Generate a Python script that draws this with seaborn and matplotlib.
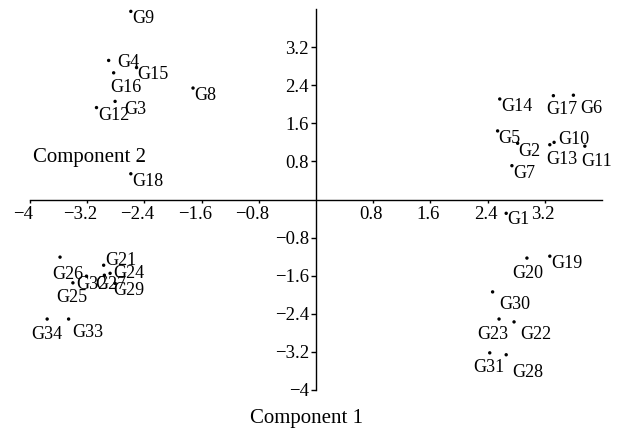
import matplotlib
matplotlib.use("Agg")
import matplotlib.pyplot as plt
import matplotlib.transforms as mtransforms
import seaborn as sns
import pandas as pd

names = ["G9", "G4", "G15", "G16", "G8", "G3", "G12", "G18",
         "G14", "G17", "G6", "G5", "G2", "G10", "G13", "G11", "G7",
         "G1", "G20", "G19", "G30", "G23", "G22", "G31", "G28",
         "G26", "G21", "G24", "G27", "G32", "G29", "G25", "G34", "G33"]
comp1 = [-2.59, -2.90, -2.51, -2.83, -1.72, -2.81, -3.07, -2.59,
         2.57, 3.32, 3.60, 2.54, 2.82, 3.33, 3.27, 3.76, 2.74,
         2.66, 2.95, 3.27, 2.47, 2.56, 2.77, 2.43, 2.66,
         -3.58, -2.97, -2.88, -2.96, -3.21, -2.81, -3.40, -3.76, -3.46]
comp2 = [3.95, 2.92, 2.77, 2.66, 2.34, 2.06, 1.93, 0.54,
         2.11, 2.18, 2.19, 1.44, 1.18, 1.20, 1.15, 1.12, 0.71,
         -0.29, -1.23, -1.19, -1.94, -2.51, -2.57, -3.22, -3.26,
         -1.21, -1.38, -1.55, -1.59, -1.61, -1.76, -1.75, -2.51, -2.51]
xticks = [-4, -3.2, -2.4, -1.6, -0.8, 0.8, 1.6, 2.4, 3.2]
yticks = [-4, -3.2, -2.4, -1.6, -0.8, 0.8, 1.6, 2.4, 3.2]

# label placement (pixel offsets of the label baseline-left from the point; +down)
label_dx = [1, 8.7, 0.3, -3.3, 1.7, 9, 1.3, 1,
            1.7, -7.3, 6.7, 1, 1, 4, -4, -3.3, 1,
            0.7, -14.4, 1.7, 6.7, -21.7, 5.7, -16, 5.7,
            -7.3, 1.7, 3.3, -9.3, -10.7, -1.7, -16.7, -15.7, 3.3]
label_dy = [11.7, 6.7, 11.3, 19, 12, 12.6, 12.6, 12.7,
            11.7, 18.3, 17.4, 11.7, 12.3, 1.6, 19.3, 20, 12.3,
            10.6, 19.6, 12.3, 17.3, 20, 17, 18.7, 22.6,
            21.6, 0, 5, 13.3, 13.3, 11.7, 19, 20, 17.7]

df = pd.DataFrame({"name": names, "Component 1": comp1, "Component 2": comp2})

sns.set_theme(style="white")
plt.rcParams["font.family"] = ["Liberation Serif", "DejaVu Serif"]

W, H = 623, 432
fig = plt.figure(figsize=(W / 100, H / 100), dpi=100)
ax = fig.add_axes([30 / W, 1 - 390 / H, (602 - 30) / W, (390 - 9) / H])

sns.scatterplot(data=df, x="Component 1", y="Component 2", ax=ax,
                color="black", s=6, edgecolor="none", legend=False)

ax.set_xlim(-4, 4)
ax.set_ylim(-4, 4)
ax.spines["left"].set_position(("data", 0))
ax.spines["bottom"].set_position(("data", 0))
ax.spines["top"].set_visible(False)
ax.spines["right"].set_visible(False)
for s in ("left", "bottom"):
    ax.spines[s].set_color("black")
    ax.spines[s].set_linewidth(1.0)

ax.tick_params(axis="x", direction="out", length=2.5, width=1, pad=2,
               labelsize=13.5, colors="black", bottom=True)
ax.tick_params(axis="y", direction="out", length=3.5, width=1, pad=1.5,
               labelsize=13.5, colors="black", left=True)
ax.set_xticks(xticks)
ax.set_yticks(yticks)
ax.set_xticklabels([("%g" % v).replace("-", "\u2212") for v in xticks])
ax.set_yticklabels([("%g" % v).replace("-", "\u2212") for v in yticks])
shift_neg = mtransforms.ScaledTranslation(-7 / 100, 0, fig.dpi_scale_trans)
shift_pos = mtransforms.ScaledTranslation(-2 / 100, 0, fig.dpi_scale_trans)
for lbl in ax.get_xticklabels():
    if lbl.get_text().startswith("\u2212"):
        lbl.set_transform(lbl.get_transform() + shift_neg)
    else:
        lbl.set_transform(lbl.get_transform() + shift_pos)
ax.set_xlabel("")
ax.set_ylabel("")

for n, x, y, dx, dy in zip(names, comp1, comp2, label_dx, label_dy):
    ax.annotate(n, (x, y), xytext=(dx, -dy), textcoords="offset pixels",
                ha="left", va="baseline", fontsize=13, color="black")

fig.text(250 / W, 1 - 423 / H, "Component 1", ha="left", va="baseline",
         fontsize=15, color="black")
fig.text(33 / W, 1 - 162 / H, "Component 2", ha="left", va="baseline",
         fontsize=15, color="black")

fig.savefig("out.png", dpi=100, facecolor="white")
